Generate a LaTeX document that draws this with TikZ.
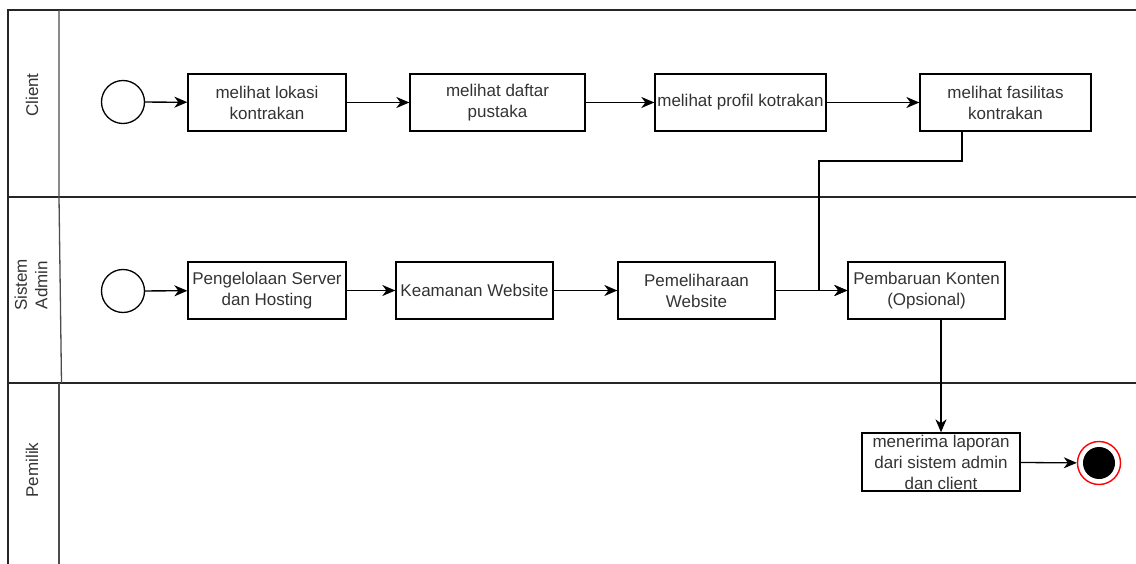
\documentclass[tikz,border=0pt]{standalone}
\usepackage{fontspec}
\setmainfont{Liberation Sans}
\usetikzlibrary{arrows.meta}
\definecolor{teks}{rgb}{0.2, 0.2, 0.2}
\definecolor{akhirmerah}{rgb}{1.0, 0.0, 0.0}
\tikzset{
	aktivitas/.style={draw, black, line width=1.3pt, rectangle, minimum height=57pt, inner sep=0pt, align=center, text=teks, font=\fontsize{17}{21}\selectfont},
	mulai/.style={draw, black, line width=1.3pt, circle, minimum size=43pt, inner sep=0pt},
	panah/.style={-{Stealth[length=13pt, width=11pt, inset=4pt]}, line width=1.3pt, black},
	lajur/.style={rotate=90, align=center, text=teks, font=\fontsize{17}{20.5}\selectfont}
}

\begin{document}
\begin{tikzpicture}[x=1pt, y=-1pt]
	\useasboundingbox (0,0) rectangle (1136,564);
	
	% lajur
	\draw[line width=1.3pt, black!85] (1136,10) -- (8,10) -- (8,564);
	\draw[line width=1.3pt, black!85] (8,197) -- (1136,197);
	\draw[line width=1.3pt, black!85] (8,383) -- (1136,383);
	\draw[line width=1.3pt, black!70] (59,10) -- (59,197) -- (61.5,383);
	\draw[line width=1.3pt, black!70] (59,383) -- (59,564);
	
	\node[lajur] (lclient) at (32,95) {Client};
	\node[lajur] (ladmin) at (31,285) {Sistem\\Admin};
	\node[lajur] (lpemilik) at (32,470) {Pemilik};
	
	% client
	\node[mulai] (mclient) at (123,102) {};
	\node[aktivitas, minimum width=158pt] (lokasi) at (267,102.5) {melihat lokasi\\kontrakan};
	\node[aktivitas, minimum width=175pt] (daftar) at (497.5,102.5) {melihat daftar\\pustaka};
	\node[aktivitas, minimum width=171pt] (profil) at (740.5,102.5) {melihat profil kotrakan};
	\node[aktivitas, minimum width=171pt] (fasilitas) at (1005.5,102.5) {melihat fasilitas\\kontrakan};
	
	% sistem admin
	\node[mulai] (madmin) at (123,291) {};
	\node[aktivitas, minimum width=158pt] (server) at (267,290.5) {Pengelolaan Server\\dan Hosting};
	\node[aktivitas, minimum width=157pt] (keamanan) at (474.5,290.5) {Keamanan Website};
	\node[aktivitas, minimum width=157pt] (pemeliharaan) at (696.5,290.5) {Pemeliharaan\\Website};
	\node[aktivitas, minimum width=157pt] (pembaruan) at (926.5,290.5) {Pembaruan Konten\\(Opsional)};
	
	% pemilik
	\node[aktivitas, minimum width=158pt, minimum height=58pt] (laporan) at (941,462) {menerima laporan\\dari sistem admin\\dan client};
	\node[draw=akhirmerah, line width=1.4pt, circle, minimum size=43pt, inner sep=0pt] (akhir) at (1099,463) {};
	\node[fill=black, circle, minimum size=32pt, inner sep=0pt] (akhirisi) at (akhir) {};
	
	\coordinate (turun) at (962,161);
	\coordinate (belok) at (819,161);
	
	\draw[panah] (mclient) -- (lokasi);
	\draw[panah] (lokasi) -- (daftar);
	\draw[panah] (daftar) -- (profil);
	\draw[panah] (profil) -- (fasilitas);
	\draw[panah] (turun |- fasilitas.south) -- (turun) -- (belok) |- (pembaruan.west);
	
	\draw[panah] (madmin) -- (server);
	\draw[panah] (server) -- (keamanan);
	\draw[panah] (keamanan) -- (pemeliharaan);
	\draw[panah] (pemeliharaan) -- (pembaruan);
	\draw[panah] (laporan.north |- pembaruan.south) -- (laporan.north);
	\draw[panah] (laporan) -- (akhir);
\end{tikzpicture}
\end{document}
